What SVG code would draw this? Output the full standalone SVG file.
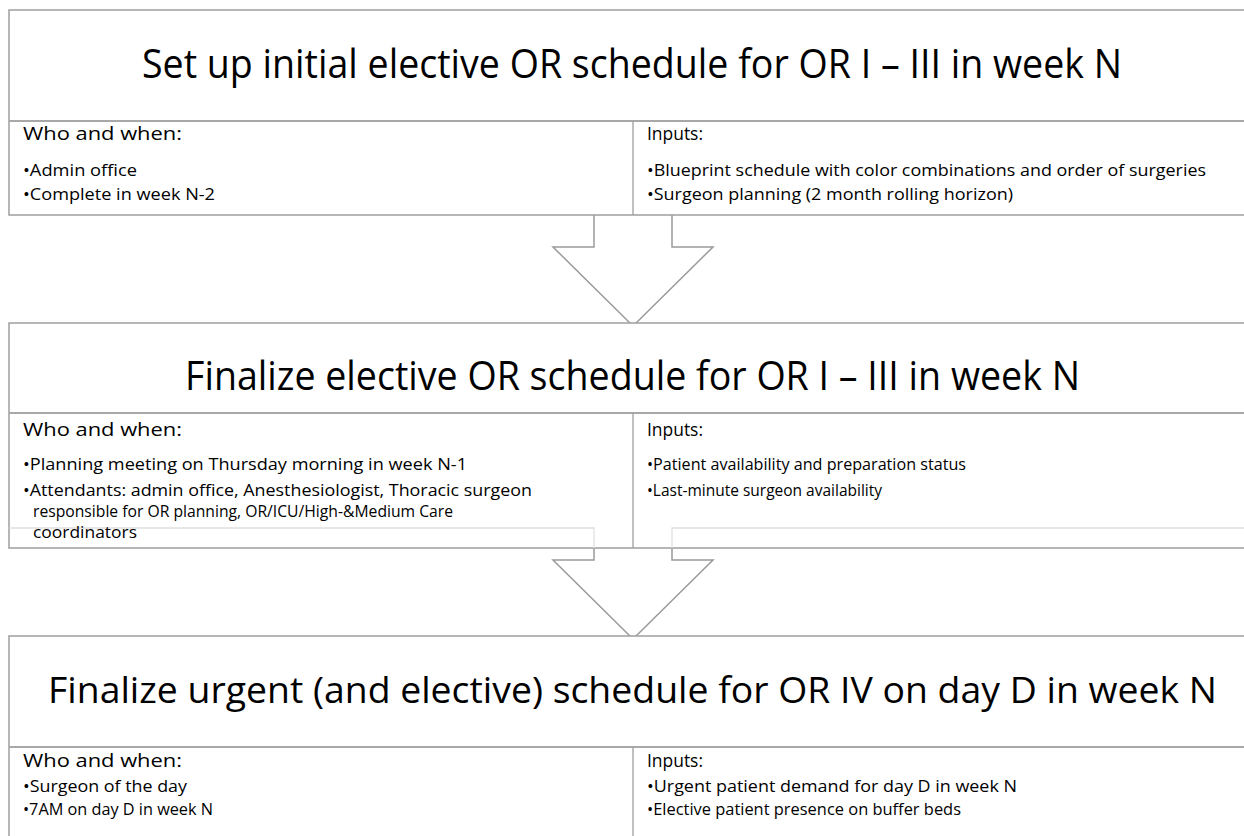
<svg xmlns="http://www.w3.org/2000/svg" width="1244" height="836" viewBox="0 0 1244 836">
<style>
.box{fill:#fff;stroke:#9e9e9e;stroke-width:1.5}
.div{stroke:#a8a8a8;stroke-width:1.8;fill:none}
.vd{stroke:#9e9e9e;stroke-width:1.3}
.faint{stroke:#e0e0e0;stroke-width:1.3;fill:none}
.arrow{fill:#fff;stroke:#9a9a9a;stroke-width:1.5;stroke-linejoin:miter}
.title{font-family:"Open Sans","Noto Sans",sans-serif;font-size:40px;fill:#000}
.hd{font-family:"Open Sans","Noto Sans",sans-serif;font-size:18.5px;fill:#000}
.bl{font-family:"Open Sans","Noto Sans",sans-serif;font-size:15.5px;fill:#000}
</style>
<rect width="1244" height="836" fill="#fff"/>
<g id="connectors">
<polyline class="arrow" points="594,215 594,247 553,247 633,326 713,247 672,247 672,215"/>
<polyline class="arrow" points="594,548 594,560 553,560 633,639 713,560 672,560 672,548"/>
</g>
<g id="node1">
<path class="box" d="M1244,10 H9 V215 H1244"/>
<line class="div" x1="9" y1="121" x2="1244" y2="121"/>
<line class="vd" x1="633" y1="121" x2="633" y2="215"/>
<text class="title" x="142" y="78" textLength="980" lengthAdjust="spacingAndGlyphs">Set up initial elective OR schedule for OR I – III in week N</text>
<text class="hd" x="23" y="140" textLength="159" lengthAdjust="spacingAndGlyphs">Who and when:</text>
<text class="bl" x="23" y="176" textLength="114" lengthAdjust="spacingAndGlyphs">•Admin office</text>
<text class="bl" x="23" y="200" textLength="192" lengthAdjust="spacingAndGlyphs">•Complete in week N-2</text>
<text class="hd" x="647" y="140" textLength="56" lengthAdjust="spacingAndGlyphs">Inputs:</text>
<text class="bl" x="647" y="176" textLength="559" lengthAdjust="spacingAndGlyphs">•Blueprint schedule with color combinations and order of surgeries</text>
<text class="bl" x="647" y="200" textLength="366" lengthAdjust="spacingAndGlyphs">•Surgeon planning (2 month rolling horizon)</text>
</g>
<g id="node2">
<path class="box" d="M1244,323 H9 V548 H1244"/>
<line class="div" x1="9" y1="413" x2="1244" y2="413"/>
<line class="vd" x1="633" y1="413" x2="633" y2="548"/>
<polyline class="faint" points="9,528 594,528 594,548"/>
<polyline class="faint" points="1244,528 672,528 672,548"/>
<text class="title" x="185" y="390" textLength="895" lengthAdjust="spacingAndGlyphs">Finalize elective OR schedule for OR I – III in week N</text>
<text class="hd" x="23" y="436" textLength="159" lengthAdjust="spacingAndGlyphs">Who and when:</text>
<text class="bl" x="23" y="470" textLength="444" lengthAdjust="spacingAndGlyphs">•Planning meeting on Thursday morning in week N-1</text>
<text class="bl" x="23" y="496" textLength="509" lengthAdjust="spacingAndGlyphs">•Attendants: admin office, Anesthesiologist, Thoracic surgeon</text>
<text class="bl" x="33" y="517" textLength="420" lengthAdjust="spacingAndGlyphs">responsible for OR planning, OR/ICU/High-&amp;Medium Care</text>
<text class="bl" x="33" y="538" textLength="104" lengthAdjust="spacingAndGlyphs">coordinators</text>
<text class="hd" x="647" y="436" textLength="56" lengthAdjust="spacingAndGlyphs">Inputs:</text>
<text class="bl" x="647" y="470" textLength="319" lengthAdjust="spacingAndGlyphs">•Patient availability and preparation status</text>
<text class="bl" x="647" y="496" textLength="235" lengthAdjust="spacingAndGlyphs">•Last-minute surgeon availability</text>
</g>
<g id="node3">
<path class="box" d="M1244,636 H9 V836"/>
<line class="div" x1="9" y1="747" x2="1244" y2="747"/>
<line class="vd" x1="633" y1="747" x2="633" y2="836"/>
<text class="title" x="48" y="703" style="font-size:37px" textLength="1169" lengthAdjust="spacingAndGlyphs">Finalize urgent (and elective) schedule for OR IV on day D in week N</text>
<text class="hd" x="23" y="767" textLength="159" lengthAdjust="spacingAndGlyphs">Who and when:</text>
<text class="bl" x="23" y="792" textLength="164" lengthAdjust="spacingAndGlyphs">•Surgeon of the day</text>
<text class="bl" x="23" y="815" textLength="190" lengthAdjust="spacingAndGlyphs">•7AM on day D in week N</text>
<text class="hd" x="647" y="767" textLength="56" lengthAdjust="spacingAndGlyphs">Inputs:</text>
<text class="bl" x="647" y="792" textLength="370" lengthAdjust="spacingAndGlyphs">•Urgent patient demand for day D in week N</text>
<text class="bl" x="647" y="815" textLength="314" lengthAdjust="spacingAndGlyphs">•Elective patient presence on buffer beds</text>
</g>
</svg>
